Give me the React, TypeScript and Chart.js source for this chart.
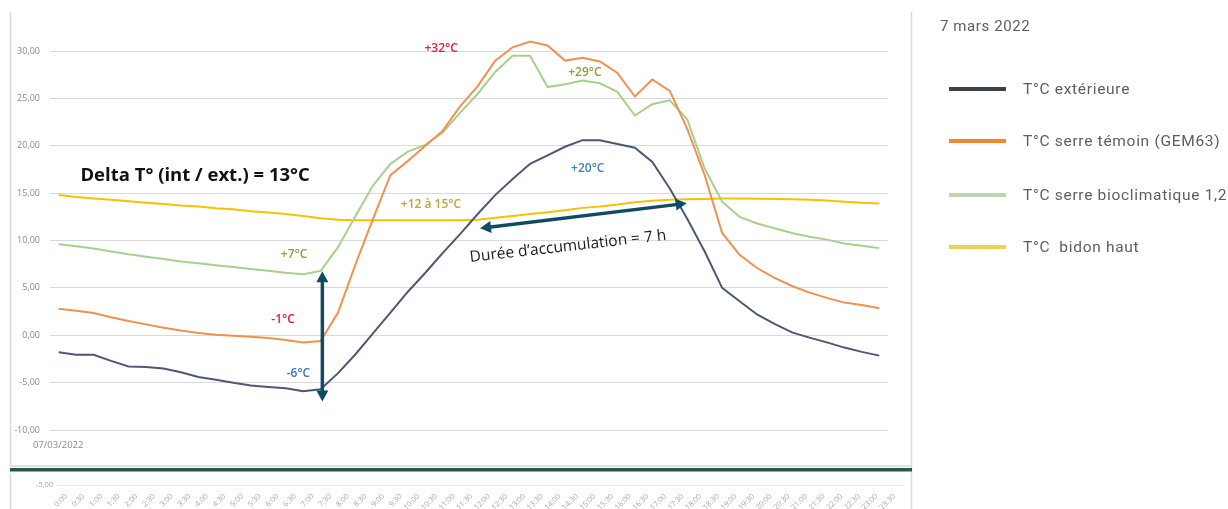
import React, { useEffect, useRef } from "react";
import { Chart, registerables } from "chart.js";

Chart.register(...registerables);

// ---------- DATA ----------
const timeLabels = [
  "0:00", "0:30", "1:00", "1:30", "2:00", "2:30", "3:00", "3:30", "4:00", "4:30",
  "5:00", "5:30", "6:00", "6:30", "7:00", "7:30", "8:00", "8:30", "9:00", "9:30",
  "10:00", "10:30", "11:00", "11:30", "12:00", "12:30", "13:00", "13:30", "14:00", "14:30",
  "15:00", "15:30", "16:00", "16:30", "17:00", "17:30", "18:00", "18:30", "19:00", "19:30",
  "20:00", "20:30", "21:00", "21:30", "22:00", "22:30", "23:00", "23:30",
];

const tempExterieure = [
  -1.8, -2.05, -2.05, -2.7, -3.3, -3.35, -3.5, -3.9, -4.4, -4.7,
  -5.0, -5.3, -5.45, -5.6, -5.9, -5.7, -4.0, -2.0, 0.2, 2.4,
  4.6, 6.6, 8.7, 10.7, 12.8, 14.8, 16.5, 18.1, 19.0, 19.9,
  20.6, 20.6, 20.2, 19.8, 18.3, 15.5, 12.3, 8.85, 5.0, 3.6,
  2.2, 1.2, 0.3, -0.25, -0.75, -1.3, -1.75, -2.15,
];

const tempSerreTemoin = [
  2.8, 2.6, 2.35, 1.9, 1.5, 1.15, 0.8, 0.5, 0.25, 0.05,
  -0.05, -0.15, -0.3, -0.5, -0.75, -0.6, 2.4, 7.5, 12.3, 16.9,
  18.4, 20.0, 21.6, 24.2, 26.3, 29.0, 30.4, 31.0, 30.6, 29.0,
  29.3, 28.9, 27.7, 25.2, 27.0, 25.8, 21.8, 16.9, 10.8, 8.5,
  7.1, 6.05, 5.2, 4.5, 3.95, 3.45, 3.2, 2.85,
];

const tempSerreBioclim = [
  9.6, 9.4, 9.15, 8.85, 8.55, 8.3, 8.05, 7.8, 7.6, 7.4,
  7.2, 7.0, 6.8, 6.6, 6.45, 6.8, 9.3, 12.6, 15.8, 18.1,
  19.4, 20.1, 21.4, 23.5, 25.5, 27.8, 29.5, 29.5, 26.2, 26.5,
  26.9, 26.6, 25.7, 23.2, 24.4, 24.8, 22.8, 17.6, 14.1, 12.5,
  11.8, 11.3, 10.8, 10.4, 10.1, 9.7, 9.45, 9.2,
];

const tempBidonHaut = [
  14.8, 14.6, 14.45, 14.3, 14.15, 14.0, 13.85, 13.7, 13.6, 13.4,
  13.3, 13.1, 12.95, 12.8, 12.6, 12.35, 12.2, 12.15, 12.15, 12.15,
  12.15, 12.15, 12.15, 12.15, 12.2, 12.4, 12.6, 12.8, 13.0, 13.2,
  13.45, 13.6, 13.8, 14.05, 14.2, 14.3, 14.37, 14.4, 14.43, 14.43,
  14.42, 14.4, 14.37, 14.3, 14.22, 14.1, 14.0, 13.9,
];

const seriesNames = [
  "T°C extérieure",
  "T°C serre témoin (GEM63)",
  "T°C serre bioclimatique 1,2",
  "T°C  bidon haut",
];
const seriesValues = [tempExterieure, tempSerreTemoin, tempSerreBioclim, tempBidonHaut];
const lineColors = ["#4d5874", "#f0914f", "#a9cf8e", "#f6c200"];
const legendColors = ["#3b4049", "#f2862b", "#c3d3b1", "#e6d54e"];

const legendTitle = "7 mars 2022";
const dateLabel = "07/03/2022";

const yMin = -10;
const yMax = 33.77;
const yStep = 5;

// annotation texts in data coordinates (category index, temperature)
const annotationLabels = [
  { text: "+32°C", x: 21.9, y: 30.3, color: "#e31b3b", size: 12, weight: "600" },
  { text: "+29°C", x: 30.14, y: 27.7, color: "#8c9f3e", size: 12, weight: "600" },
  { text: "+20°C", x: 30.3, y: 17.64, color: "#3f7fc1", size: 12, weight: "600" },
  { text: "+12 à 15°C", x: 21.32, y: 13.77, color: "#c8a135", size: 12, weight: "600" },
  { text: "+7°C", x: 13.48, y: 8.53, color: "#8c9f3e", size: 12, weight: "600" },
  { text: "-1°C", x: 12.85, y: 1.62, color: "#e31b3b", size: 12, weight: "600" },
  { text: "-6°C", x: 13.73, y: -4.03, color: "#3b76b5", size: 12, weight: "600" },
  { text: "Delta T° (int / ext.) = 13°C", x: 7.81, y: 16.8, color: "#111111", size: 18.5, weight: "700" },
];
const rotatedLabel = { text: "Durée d’accumulation = 7 h", x: 29.17, y: 9.37, angle: -6.4, color: "#1a1a1a", size: 15.5 };

const arrows = [
  { x1: 15.1, y1: 6.75, x2: 15.1, y2: -7.0 },
  { x1: 24.13, y1: 11.3, x2: 35.97, y2: 13.93 },
];
const arrowColor = "#104b64";

const fmt = (v: number) => v.toFixed(2).replace(".", ",");

function drawDoubleArrow(ctx: CanvasRenderingContext2D, x1: number, y1: number, x2: number, y2: number) {
  const ang = Math.atan2(y2 - y1, x2 - x1);
  const headLen = 11;
  const headHalf = 6;
  const cos = Math.cos(ang);
  const sin = Math.sin(ang);
  ctx.strokeStyle = arrowColor;
  ctx.fillStyle = arrowColor;
  ctx.lineWidth = 3.5;
  ctx.beginPath();
  ctx.moveTo(x1 + cos * headLen * 0.8, y1 + sin * headLen * 0.8);
  ctx.lineTo(x2 - cos * headLen * 0.8, y2 - sin * headLen * 0.8);
  ctx.stroke();
  const head = (tx: number, ty: number, dir: number) => {
    const bx = tx - dir * cos * headLen;
    const by = ty - dir * sin * headLen;
    ctx.beginPath();
    ctx.moveTo(tx, ty);
    ctx.lineTo(bx - sin * headHalf, by + cos * headHalf);
    ctx.lineTo(bx + sin * headHalf, by - cos * headHalf);
    ctx.closePath();
    ctx.fill();
  };
  head(x2, y2, 1);
  head(x1, y1, -1);
}

const framePlugin = {
  id: "frameDecor",
  beforeDraw(chart: any) {
    const ctx: CanvasRenderingContext2D = chart.ctx;
    ctx.save();
    ctx.strokeStyle = "#d9d9d9";
    ctx.lineWidth = 1.5;
    ctx.beginPath();
    ctx.moveTo(10.5, 12);
    ctx.lineTo(10.5, 466);
    ctx.lineTo(911, 466);
    ctx.moveTo(911.5, 12);
    ctx.lineTo(911.5, 509);
    ctx.moveTo(10.5, 473);
    ctx.lineTo(10.5, 509);
    ctx.stroke();
    ctx.fillStyle = "#245a4a";
    ctx.fillRect(10, 468, 902, 3.5);
    ctx.fillStyle = "#8c8c8c";
    ctx.font = "9.5px 'Open Sans'";
    ctx.textAlign = "left";
    ctx.textBaseline = "middle";
    ctx.fillText(dateLabel, 33, 445);
    ctx.restore();
  },
};

const annotationPlugin = {
  id: "annotationsDecor",
  afterDatasetsDraw(chart: any) {
    const ctx: CanvasRenderingContext2D = chart.ctx;
    const xs = chart.scales.x;
    const ys = chart.scales.y;
    ctx.save();
    for (const a of arrows) {
      drawDoubleArrow(
        ctx,
        xs.getPixelForValue(a.x1),
        ys.getPixelForValue(a.y1),
        xs.getPixelForValue(a.x2),
        ys.getPixelForValue(a.y2)
      );
    }
    ctx.textAlign = "center";
    ctx.textBaseline = "middle";
    for (const l of annotationLabels) {
      ctx.font = `${l.weight} ${l.size}px 'Open Sans'`;
      ctx.fillStyle = l.color;
      ctx.fillText(l.text, xs.getPixelForValue(l.x), ys.getPixelForValue(l.y));
    }
    ctx.translate(xs.getPixelForValue(rotatedLabel.x), ys.getPixelForValue(rotatedLabel.y));
    ctx.rotate((rotatedLabel.angle * Math.PI) / 180);
    ctx.font = `400 ${rotatedLabel.size}px 'Open Sans'`;
    ctx.fillStyle = rotatedLabel.color;
    ctx.fillText(rotatedLabel.text, 0, 0);
    ctx.restore();
  },
};

export default function App() {
  const mainRef = useRef<HTMLCanvasElement>(null);
  const stripRef = useRef<HTMLCanvasElement>(null);

  useEffect(() => {
    document.body.style.margin = "0";
    document.body.style.overflow = "hidden";
    document.documentElement.style.overflow = "hidden";
    if (!mainRef.current || !stripRef.current) return;

    const main = new Chart(mainRef.current, {
      type: "line",
      data: {
        labels: timeLabels,
        datasets: seriesValues.map((vals, i) => ({
          label: seriesNames[i],
          data: vals,
          borderColor: lineColors[i],
          backgroundColor: lineColors[i],
          borderWidth: 2,
          pointRadius: 0,
          tension: 0,
          fill: false,
        })),
      },
      options: {
        responsive: false,
        animation: false,
        layout: { padding: { top: 12, right: 340, bottom: 79, left: 0 } },
        plugins: { legend: { display: false }, tooltip: { enabled: false } },
        scales: {
          x: { type: "category", offset: true, display: false },
          y: {
            min: yMin,
            max: yMax,
            afterFit: (s: any) => {
              s.width = 50;
            },
            border: { display: false },
            grid: { color: "#d9d9d9", lineWidth: 1, drawTicks: false },
            ticks: {
              stepSize: yStep,
              includeBounds: false,
              padding: 10,
              color: "#8c8c8c",
              font: { family: "'Open Sans'", size: 9 },
              callback: (v: any) => fmt(Number(v)),
            },
          },
        },
      },
      plugins: [framePlugin, annotationPlugin],
    } as any);

    const strip = new Chart(stripRef.current, {
      type: "line",
      data: { labels: timeLabels, datasets: [] },
      options: {
        responsive: false,
        animation: false,
        layout: { padding: { top: 6, right: 325, bottom: 0, left: 0 } },
        plugins: { legend: { display: false }, tooltip: { enabled: false } },
        scales: {
          x: {
            type: "category",
            offset: true,
            afterFit: (s: any) => {
              s.height = 19;
            },
            border: { display: false },
            grid: { display: false, drawTicks: false },
            ticks: {
              autoSkip: false,
              minRotation: 45,
              maxRotation: 45,
              padding: 2,
              color: "#a6a6a6",
              font: { family: "'Open Sans'", size: 7.5 },
            },
          },
          y: {
            min: -5.6,
            max: -4.4,
            afterFit: (s: any) => {
              s.width = 57.2;
            },
            border: { display: false },
            grid: { color: "#e8e8e8", lineWidth: 1, drawTicks: false },
            ticks: {
              stepSize: 1,
              includeBounds: false,
              padding: 4,
              color: "#a6a6a6",
              font: { family: "'Open Sans'", size: 7.5 },
              callback: (v: any) => fmt(Number(v)),
            },
          },
        },
      },
    } as any);

    return () => {
      main.destroy();
      strip.destroy();
    };
  }, []);

  const legendTops = [88.7, 140.7, 194.7, 246.7];

  return (
    <div style={{ position: "relative", width: 1228, height: 509, overflow: "hidden", background: "#ffffff" }}>
      <canvas ref={mainRef} width={1228} height={509} style={{ position: "absolute", left: 0, top: 0 }} />
      <canvas ref={stripRef} width={1228} height={37} style={{ position: "absolute", left: 0, top: 472 }} />
      <div
        style={{
          position: "absolute",
          left: 940,
          top: 16,
          fontFamily: "Roboto",
          fontSize: 15,
          lineHeight: "20px",
          letterSpacing: "0.6px",
          color: "#5a5e66",
          whiteSpace: "pre",
        }}
      >
        {legendTitle}
      </div>
      {seriesNames.map((name, i) => (
        <React.Fragment key={name}>
          <div
            style={{
              position: "absolute",
              left: 949,
              top: legendTops[i] - 2,
              width: 57,
              height: 4,
              background: legendColors[i],
            }}
          />
          <div
            style={{
              position: "absolute",
              left: 1023,
              top: legendTops[i] - 10,
              fontFamily: "Roboto",
              fontSize: 15.5,
              lineHeight: "20px",
              letterSpacing: "0.7px",
              color: "#5a5e66",
              whiteSpace: "pre",
            }}
          >
            {name}
          </div>
        </React.Fragment>
      ))}
    </div>
  );
}
